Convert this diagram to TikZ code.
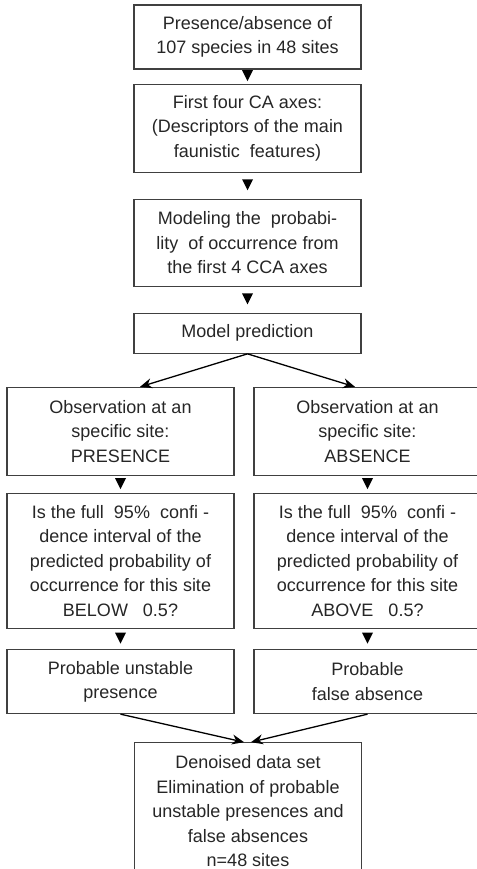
\documentclass[tikz,border=0pt]{standalone}
\usepackage{fontspec}
\setmainfont{Liberation Sans}
\usetikzlibrary{positioning,shapes.geometric,arrows.meta}

\begin{document}
\begin{tikzpicture}[x=1pt, y=-1pt, ->, >={Stealth[length=12pt, width=10pt]}, flow box/.style={draw=black!75, line width=1.1pt, text=black!85, align=center, minimum width=227pt, inner sep=2pt, font={\fontsize{18}{24.5}\selectfont}}, step tip/.style={isosceles triangle, shape border rotate=-90, isosceles triangle stretches, fill=black, inner sep=0pt, minimum width=11pt, minimum height=11pt, yshift=3pt}, link/.style={line width=1.3pt, black}]
\useasboundingbox (0,0) rectangle (476,869);
\node [flow box, minimum height=64pt] (data) at (247.5,37) {Presence/absence of\\107 species in 48 sites};
\node [flow box, minimum height=88pt, below=14pt of data] (ca) {First four CA axes:\\(Descriptors of the main\\faunistic\ \ features)};
\node [flow box, minimum height=87pt, below=26pt of ca] (model) {Modeling the\ \ probabi-\\lity\ \ of occurrence from\\the first 4 CCA axes};
\node [flow box, minimum height=40pt, below=26pt of model] (pred) {Model prediction};
\node [flow box, minimum height=88pt, below=33pt of pred, xshift=-127pt] (obsP) {Observation at an\\specific site:\\PRESENCE};
\node [flow box, minimum height=88pt, below=33pt of pred, xshift=120pt] (obsA) {Observation at an\\specific site:\\ABSENCE};
\node [flow box, minimum height=135pt, below=17pt of obsP] (askP) {Is the full\ \ 95\%\ \ confi -\\dence interval of the\\predicted probability of\\occurrence for this site\\BELOW\ \ \ 0.5?};
\node [flow box, minimum height=135pt, below=17pt of obsA] (askA) {Is the full\ \ 95\%\ \ confi -\\dence interval of the\\predicted probability of\\occurrence for this site\\ABOVE\ \ \ 0.5?};
\node [flow box, minimum height=64pt, below=20pt of askP] (unst) {Probable unstable\\presence};
\node [flow box, minimum height=64pt, below=20pt of askA] (false) {Probable\\false absence};
\node [flow box, minimum height=137pt, below=28pt of unst, xshift=127.5pt] (clean) {Denoised data set\\Elimination of probable\\unstable presences and\\false absences\\n=48 sites};

\path (data) -- node[step tip]{} (ca);
\path (ca) -- node[step tip]{} (model);
\path (model) -- node[step tip]{} (pred);
\path (obsP) -- node[step tip]{} (askP);
\path (obsA) -- node[step tip]{} (askA);
\path (askP) -- node[step tip]{} (unst);
\path (askA) -- node[step tip]{} (false);

\draw [link] (pred.south) -- ([xshift=19.5pt]obsP.north);
\draw [link] (pred.south) -- ([xshift=-12.5pt]obsA.north);
\draw [link] (unst.south) -- ([xshift=-4pt]clean.north);
\draw [link] (false.south) -- ([xshift=3pt]clean.north);
\end{tikzpicture}
\end{document}
